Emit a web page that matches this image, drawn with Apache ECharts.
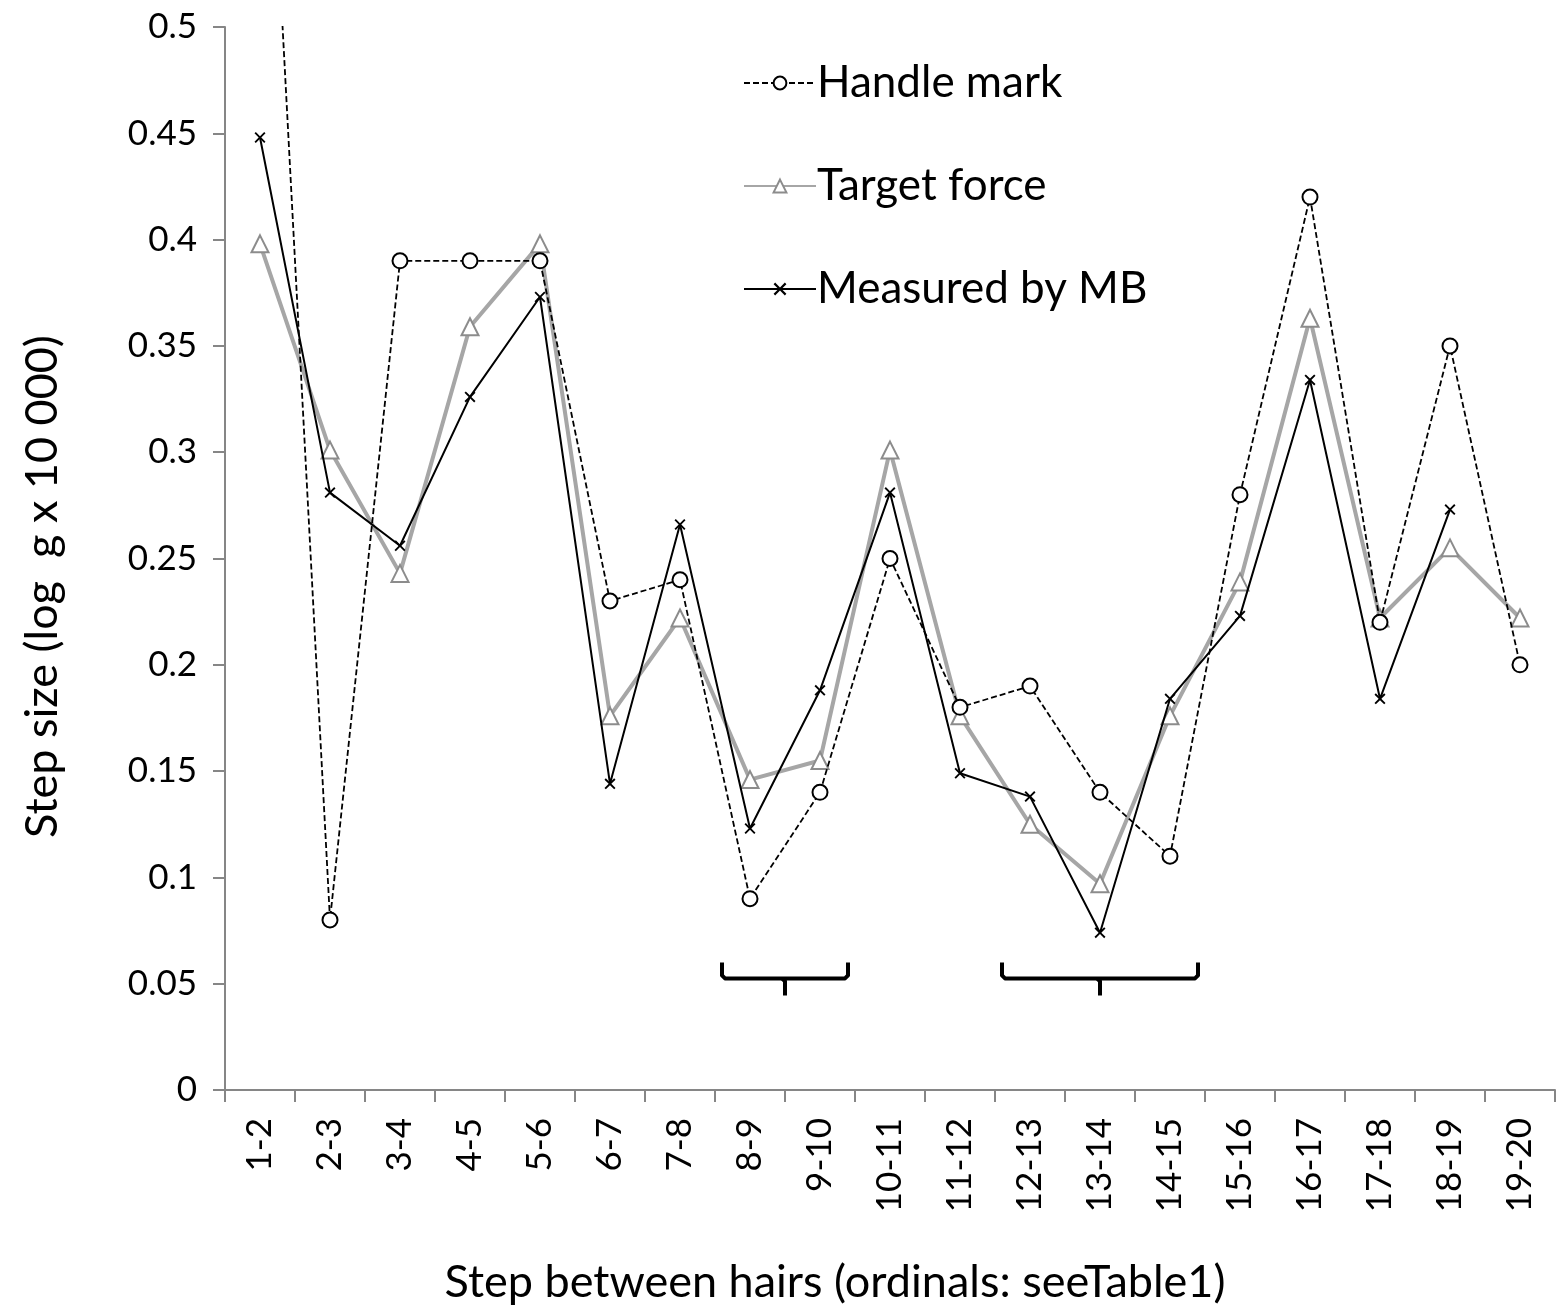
<!DOCTYPE html>
<html>
<head>
<meta charset="utf-8">
<script src="https://cdn.jsdelivr.net/npm/echarts@6/dist/echarts.min.js"></script>
<style>
html,body{margin:0;padding:0;background:#fff;}
#chart{width:1560px;height:1313px;}
</style>
</head>
<body>
<div id="chart"></div>
<script>
const categories = ['1-2','2-3','3-4','4-5','5-6','6-7','7-8','8-9','9-10','10-11','11-12','12-13','13-14','14-15','15-16','16-17','17-18','18-19','19-20'];
const handleMark = [0.70, 0.08, 0.39, 0.39, 0.39, 0.23, 0.24, 0.09, 0.14, 0.25, 0.18, 0.19, 0.14, 0.11, 0.28, 0.42, 0.22, 0.35, 0.20];
const targetForce = [0.398, 0.301, 0.243, 0.359, 0.398, 0.176, 0.222, 0.146, 0.155, 0.301, 0.176, 0.125, 0.097, 0.176, 0.239, 0.363, 0.222, 0.255, 0.222];
const measuredMB = [0.448, 0.281, 0.256, 0.326, 0.373, 0.144, 0.266, 0.123, 0.188, 0.281, 0.149, 0.138, 0.074, 0.184, 0.223, 0.334, 0.184, 0.273, null];
const yTicks = [0, 0.05, 0.1, 0.15, 0.2, 0.25, 0.3, 0.35, 0.4, 0.45, 0.5];
const bracketGroups = [['8-9','9-10'], ['12-13','14-15']];

const FONT = 'Lato';
const crossPath = 'path://M0,1.2 L1.2,0 L5,3.8 L8.8,0 L10,1.2 L6.2,5 L10,8.8 L8.8,10 L5,6.2 L1.2,10 L0,8.8 L3.8,5 Z';

const chart = echarts.init(document.getElementById('chart'));
const option = {
  backgroundColor: '#fff',
  animation: false,
  textStyle: { fontFamily: FONT },
  grid: { left: 225, right: 5, top: 27, bottom: 223 },
  legend: {
    orient: 'vertical',
    left: 738,
    top: 56,
    itemWidth: 72,
    itemHeight: 16,
    itemGap: 59,
    data: ['Handle mark', 'Target force', 'Measured by MB'],
    textStyle: { fontSize: 44, color: '#000', fontFamily: FONT, padding: [0,0,0,-4] }
  },
  xAxis: {
    type: 'category',
    data: categories,
    boundaryGap: true,
    name: 'Step between hairs (ordinals: seeTable1)',
    nameLocation: 'middle',
    nameGap: 170,
    nameTextStyle: { fontSize: 45, color: '#000', fontFamily: FONT, padding: [0, 110, 0, 0] },
    axisLine: { show: true, lineStyle: { color: '#868686', width: 2 } },
    axisTick: { show: true, length: 12, alignWithLabel: false, lineStyle: { color: '#868686', width: 2 } },
    axisLabel: { rotate: 90, interval: 0, fontSize: 35, color: '#000', margin: 28, fontFamily: FONT },
    splitLine: { show: false }
  },
  yAxis: {
    type: 'value',
    min: 0,
    max: 0.5,
    interval: 0.05,
    name: 'Step size (log  g x 10 000)',
    nameLocation: 'middle',
    nameRotate: 90,
    nameGap: 160,
    nameTextStyle: { fontSize: 45, color: '#000', fontFamily: FONT, padding: [0, 56, 0, 0] },
    axisLine: { show: true, lineStyle: { color: '#868686', width: 2 } },
    axisTick: { show: true, length: 12, lineStyle: { color: '#868686', width: 2 } },
    axisLabel: {
      fontSize: 35, color: '#000', margin: 28, fontFamily: FONT,
      formatter: v => { const t = yTicks.find(x => Math.abs(x - v) < 1e-9); return String(t !== undefined ? t : +v.toFixed(2)); }
    },
    splitLine: { show: false }
  },
  series: [
    {
      name: 'Target force',
      type: 'line',
      data: targetForce,
      clip: true,
      symbol: 'emptyTriangle',
      symbolSize: 17,
      showAllSymbol: true,
      lineStyle: { color: '#a6a6a6', width: 4 },
      itemStyle: { color: '#8c8c8c', borderColor: '#8c8c8c', borderWidth: 2.5 },
      z: 2
    },
    {
      name: 'Handle mark',
      type: 'line',
      data: handleMark,
      clip: true,
      symbol: 'emptyCircle',
      symbolSize: 15,
      showAllSymbol: true,
      lineStyle: { color: '#000', width: 1.8, type: [6, 3] },
      itemStyle: { color: '#000', borderColor: '#000', borderWidth: 2.5 },
      z: 3
    },
    {
      name: 'Measured by MB',
      type: 'line',
      data: measuredMB,
      clip: true,
      symbol: crossPath,
      symbolSize: 11,
      showAllSymbol: true,
      connectNulls: false,
      lineStyle: { color: '#000', width: 2 },
      itemStyle: { color: '#000' },
      z: 4
    }
  ]
};
chart.setOption(option);

function drawBrackets() {
  const graphics = [];
  bracketGroups.forEach(([a, b]) => {
    const ca = chart.convertToPixel({ xAxisIndex: 0 }, a);
    const cb = chart.convertToPixel({ xAxisIndex: 0 }, b);
    const half = (chart.convertToPixel({ xAxisIndex: 0 }, categories[1]) - chart.convertToPixel({ xAxisIndex: 0 }, categories[0])) * 0.4;
    const L = ca - half, R = cb + half, C = (L + R) / 2;
    const yTop = chart.convertToPixel({ yAxisIndex: 0 }, 0.06);
    const yLine = chart.convertToPixel({ yAxisIndex: 0 }, 0.0525);
    const yTip = chart.convertToPixel({ yAxisIndex: 0 }, 0.0445);
    graphics.push({
      type: 'polyline',
      shape: { points: [[L, yTop], [L, yLine - 3], [L + 3, yLine], [R - 3, yLine], [R, yLine - 3], [R, yTop]] },
      style: { stroke: '#000', lineWidth: 4, fill: null, lineJoin: 'round' },
      z: 10
    });
    graphics.push({
      type: 'polyline',
      shape: { points: [[C - 3, yLine], [C, yLine + 3], [C, yTip]] },
      style: { stroke: '#000', lineWidth: 4, fill: null },
      z: 10
    });
  });
  chart.setOption({ graphic: graphics });
}
drawBrackets();
</script>
</body>
</html>
